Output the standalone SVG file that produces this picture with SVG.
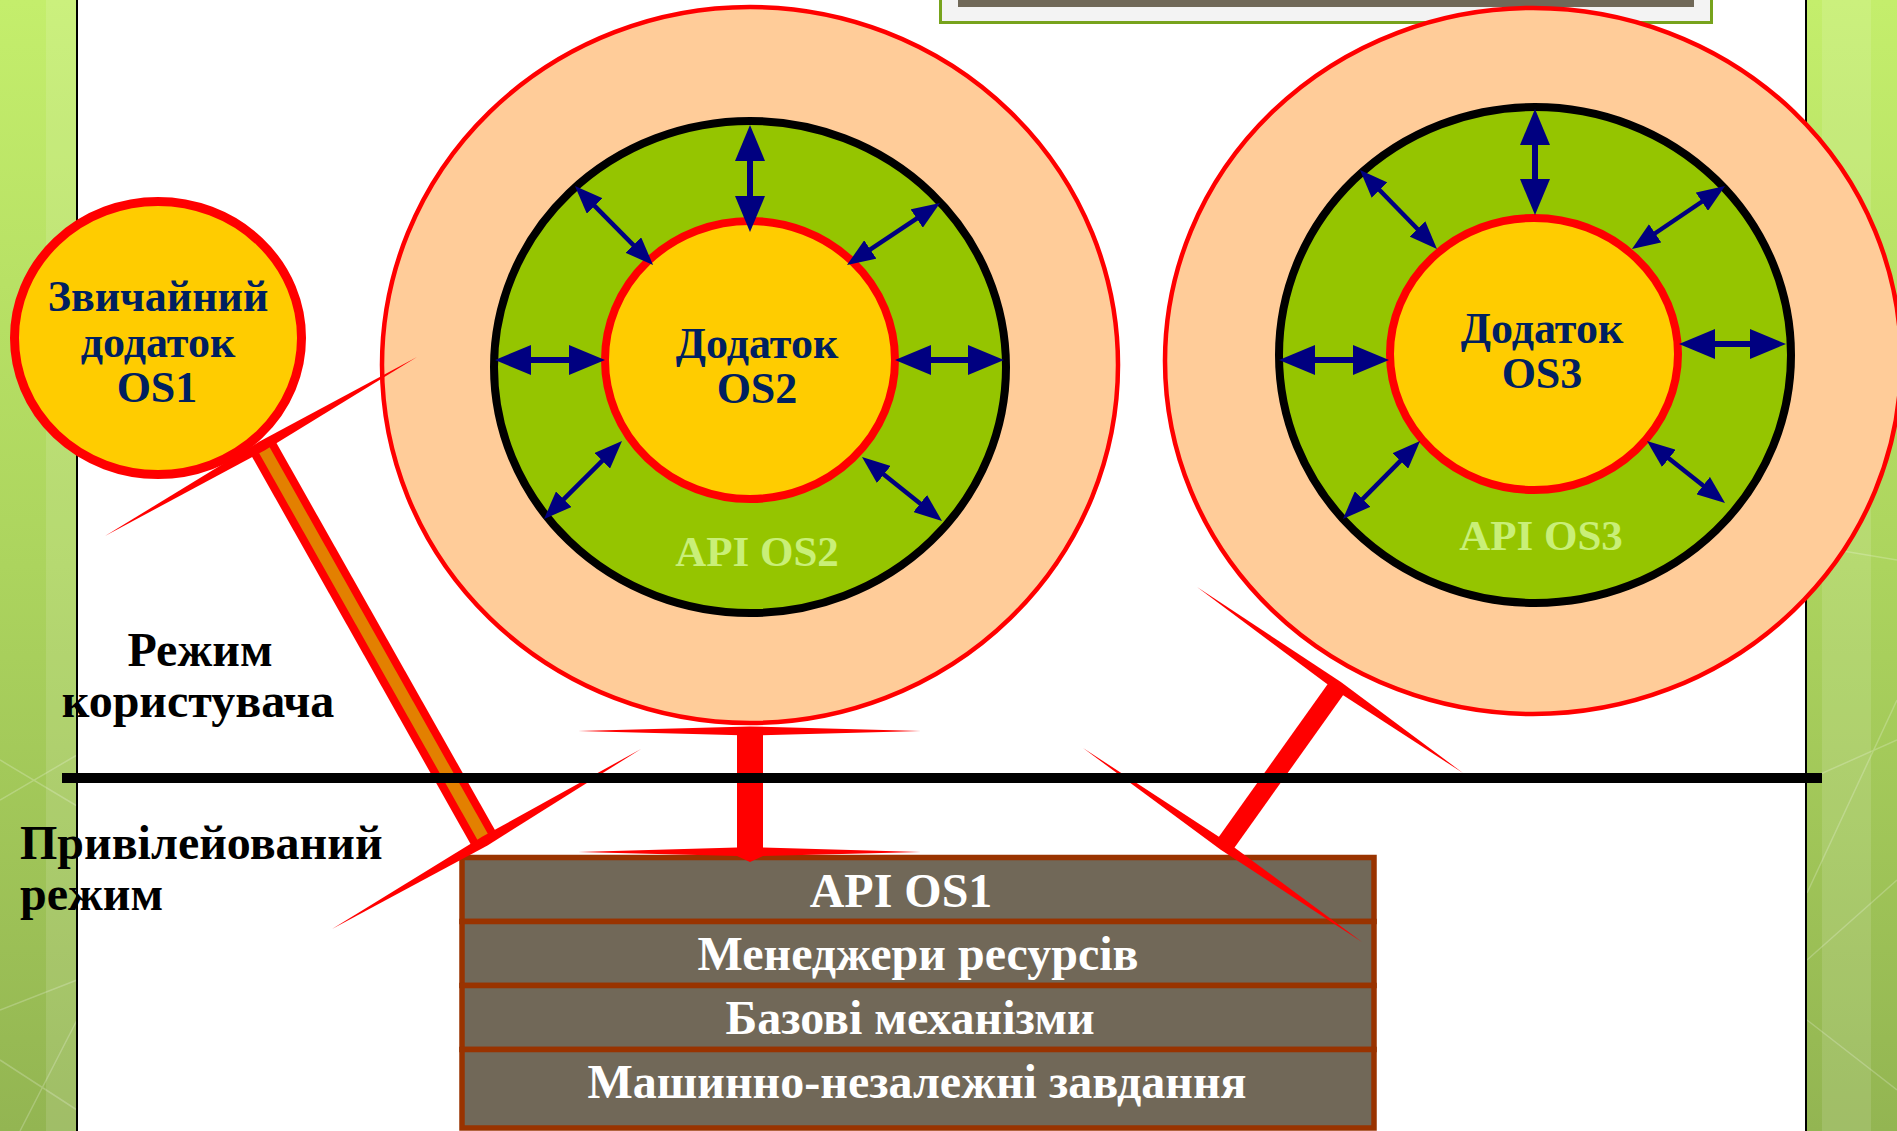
<svg xmlns="http://www.w3.org/2000/svg" width="1897" height="1131" viewBox="0 0 1897 1131">
  <defs>
    <linearGradient id="stripGrad" x1="0" y1="0" x2="0" y2="1">
      <stop offset="0" stop-color="#c4ee6c"/>
      <stop offset="0.5" stop-color="#acd45e"/>
      <stop offset="1" stop-color="#93b552"/>
    </linearGradient>
    <marker id="headBig" viewBox="0 0 36 30" markerWidth="36" markerHeight="30" refX="14" refY="15" orient="auto-start-reverse" markerUnits="userSpaceOnUse">
      <path d="M0,0 L36,15 L0,30 z" fill="#000080"/>
    </marker>
    <marker id="headSmall" viewBox="0 0 28 22" markerWidth="28" markerHeight="22" refX="12" refY="11" orient="auto-start-reverse" markerUnits="userSpaceOnUse">
      <path d="M0,0 L28,11 L0,22 z" fill="#000080"/>
    </marker>
    <style>
      .serif { font-family: "Liberation Serif", "Times New Roman", serif; font-weight: bold; }
      .app { font-size: 44px; fill: #002060; text-anchor: middle; }
      .api { font-size: 43px; fill: #c9ef78; text-anchor: middle; }
      .mode { font-size: 48px; fill: #000000; }
      .layer { font-size: 48px; fill: #ffffff; text-anchor: middle; }
      .peach { fill: #ffcc99; stroke: #ff0000; stroke-width: 4.5; }
      .ring { fill: #95c500; stroke: #000000; stroke-width: 8; }
      .core { fill: #ffcc00; stroke: #ff0000; stroke-width: 8; }
      .arB { stroke: #000080; stroke-width: 6; fill: none; marker-start: url(#headBig); marker-end: url(#headBig); }
      .arS { stroke: #000080; stroke-width: 4.5; fill: none; marker-start: url(#headSmall); marker-end: url(#headSmall); }
      .row { fill: #716858; stroke: #993300; stroke-width: 5.5; }
      .spike { fill: #ff0000; }
      .deco { stroke: #ffffff; stroke-opacity: 0.22; stroke-width: 1.5; fill: none; }
    </style>
  </defs>

  <!-- page background with side strips -->
  <rect x="0" y="0" width="1897" height="1131" fill="#ffffff"/>
  <g id="side-strips">
    <rect x="0" y="0" width="77" height="1131" fill="url(#stripGrad)"/>
    <rect x="46" y="0" width="31" height="1131" fill="#ffffff" fill-opacity="0.12"/>
    <rect x="1807" y="0" width="90" height="1131" fill="url(#stripGrad)"/>
    <rect x="1822" y="0" width="49" height="1131" fill="#ffffff" fill-opacity="0.12"/>
    <path class="deco" d="M0,800 L77,755 M0,760 L77,806 M20,1131 L77,1020 M0,1010 L77,980 M0,1060 L77,1110"/>
    <path class="deco" d="M1807,780 L1897,740 M1807,893 L1897,700 M1807,545 L1897,560 M1807,960 L1897,880 M1807,1020 L1897,1090"/>
    <rect x="76" y="0" width="2" height="1131" fill="#000000"/>
    <rect x="1805" y="0" width="2" height="1131" fill="#000000"/>
  </g>

  <!-- title panel at the top edge -->
  <g id="title-panel">
    <rect x="940.5" y="-6" width="771" height="28.5" fill="#f3f3f3" stroke="#77a31c" stroke-width="3"/>
    <rect x="958" y="-2" width="736" height="9" fill="#706858"/>
  </g>

  <!-- OS1 kernel stack -->
  <g id="node-kernel">
    <rect class="row" x="462" y="857.5" width="912" height="64"/>
    <rect class="row" x="462" y="921.5" width="912" height="64"/>
    <rect class="row" x="462" y="985.5" width="912" height="64"/>
    <rect class="row" x="462" y="1049.5" width="912" height="78.5"/>
    <text class="serif layer" x="901" y="907">API OS1</text>
    <text class="serif layer" x="918" y="970">Менеджери ресурсів</text>
    <text class="serif layer" x="910" y="1034">Базові механізми</text>
    <text class="serif layer" x="917" y="1098">Машинно-незалежні завдання</text>
  </g>

  <!-- environment subsystem OS2 -->
  <g id="node-os2">
    <ellipse class="peach" cx="750" cy="365" rx="368" ry="358"/>
    <ellipse class="ring" cx="750" cy="367" rx="256" ry="246"/>
    <ellipse class="core" cx="750" cy="360" rx="145" ry="139"/>
    <line class="arB" x1="750" y1="147" x2="750" y2="210"/>
    <line class="arB" x1="517" y1="360" x2="583" y2="360"/>
    <line class="arB" x1="917" y1="360" x2="982" y2="360"/>
    <line class="arS" x1="586.2" y1="197.4" x2="641.8" y2="253.6"/>
    <line class="arS" x1="926.7" y1="211.9" x2="860.3" y2="256.1"/>
    <line class="arS" x1="555.3" y1="507.7" x2="610.7" y2="452.3"/>
    <line class="arS" x1="874.5" y1="467" x2="929.5" y2="511"/>
    <text class="serif app" x="757" y="358">Додаток</text>
    <text class="serif app" x="757" y="403">OS2</text>
    <text class="serif api" x="757" y="566">API OS2</text>
  </g>

  <!-- environment subsystem OS3 -->
  <g id="node-os3">
    <ellipse class="peach" cx="1533" cy="361" rx="368" ry="353"/>
    <ellipse class="ring" cx="1535" cy="355" rx="256" ry="248"/>
    <ellipse class="core" cx="1534" cy="354" rx="144" ry="136"/>
    <line class="arB" x1="1535" y1="131" x2="1535" y2="193"/>
    <line class="arB" x1="1301" y1="360" x2="1367" y2="360"/>
    <line class="arB" x1="1701" y1="344" x2="1764" y2="344"/>
    <line class="arS" x1="1371.2" y1="181.5" x2="1425.8" y2="237.5"/>
    <line class="arS" x1="1711.8" y1="195" x2="1645.2" y2="240"/>
    <line class="arS" x1="1354.2" y1="507.6" x2="1408.8" y2="452.4"/>
    <line class="arS" x1="1659.5" y1="451" x2="1712.5" y2="493"/>
    <text class="serif app" x="1542" y="343">Додаток</text>
    <text class="serif app" x="1542" y="388">OS3</text>
    <text class="serif api" x="1541" y="550">API OS3</text>
  </g>

  <!-- ordinary OS1 application -->
  <g id="node-os1">
    <ellipse cx="158" cy="338" rx="143.5" ry="136.5" fill="#ffcc00" stroke="#ff0000" stroke-width="9"/>
    <text class="serif app" x="158" y="311">Звичайний</text>
    <text class="serif app" x="158" y="357">додаток</text>
    <text class="serif app" x="157" y="402">OS1</text>
  </g>

  <!-- links from the applications down to the kernel -->
  <g id="connectors">
    <line x1="262" y1="446" x2="485" y2="841" stroke="#ff0000" stroke-width="28"/>
    <line x1="262" y1="446" x2="485" y2="841" stroke="#e38000" stroke-width="12"/>
    <polygon class="spike" points="105,536 264.5,450.4 417,357 259.5,441.6"/>
    <polygon class="spike" points="332,929 487.5,845.4 641,749 482.5,836.6"/>

    <rect x="737" y="729" width="26" height="124" fill="#ff0000"/>
    <polygon class="spike" points="578,731 750,726.5 921,731 750,735.5"/>
    <polygon class="spike" points="578,852 737,847.5 763,847.5 921,852 763,856 750,862 737,856"/>

    <line x1="1338" y1="686" x2="1224" y2="846" stroke="#ff0000" stroke-width="19"/>
    <polygon class="spike" points="1197,587 1335.1,690.1 1463,773 1340.9,681.9"/>
    <polygon class="spike" points="1083,748 1221.1,850.1 1362,942 1226.9,841.9"/>
  </g>

  <!-- user / privileged mode boundary -->
  <g id="mode-boundary">
    <rect x="62" y="773" width="1760" height="10" fill="#000000"/>
    <text class="serif mode" x="200" y="666" text-anchor="middle">Режим</text>
    <text class="serif mode" x="198" y="717" text-anchor="middle">користувача</text>
    <text class="serif mode" x="20" y="859">Привілейований</text>
    <text class="serif mode" x="20" y="910">режим</text>
  </g>
</svg>
